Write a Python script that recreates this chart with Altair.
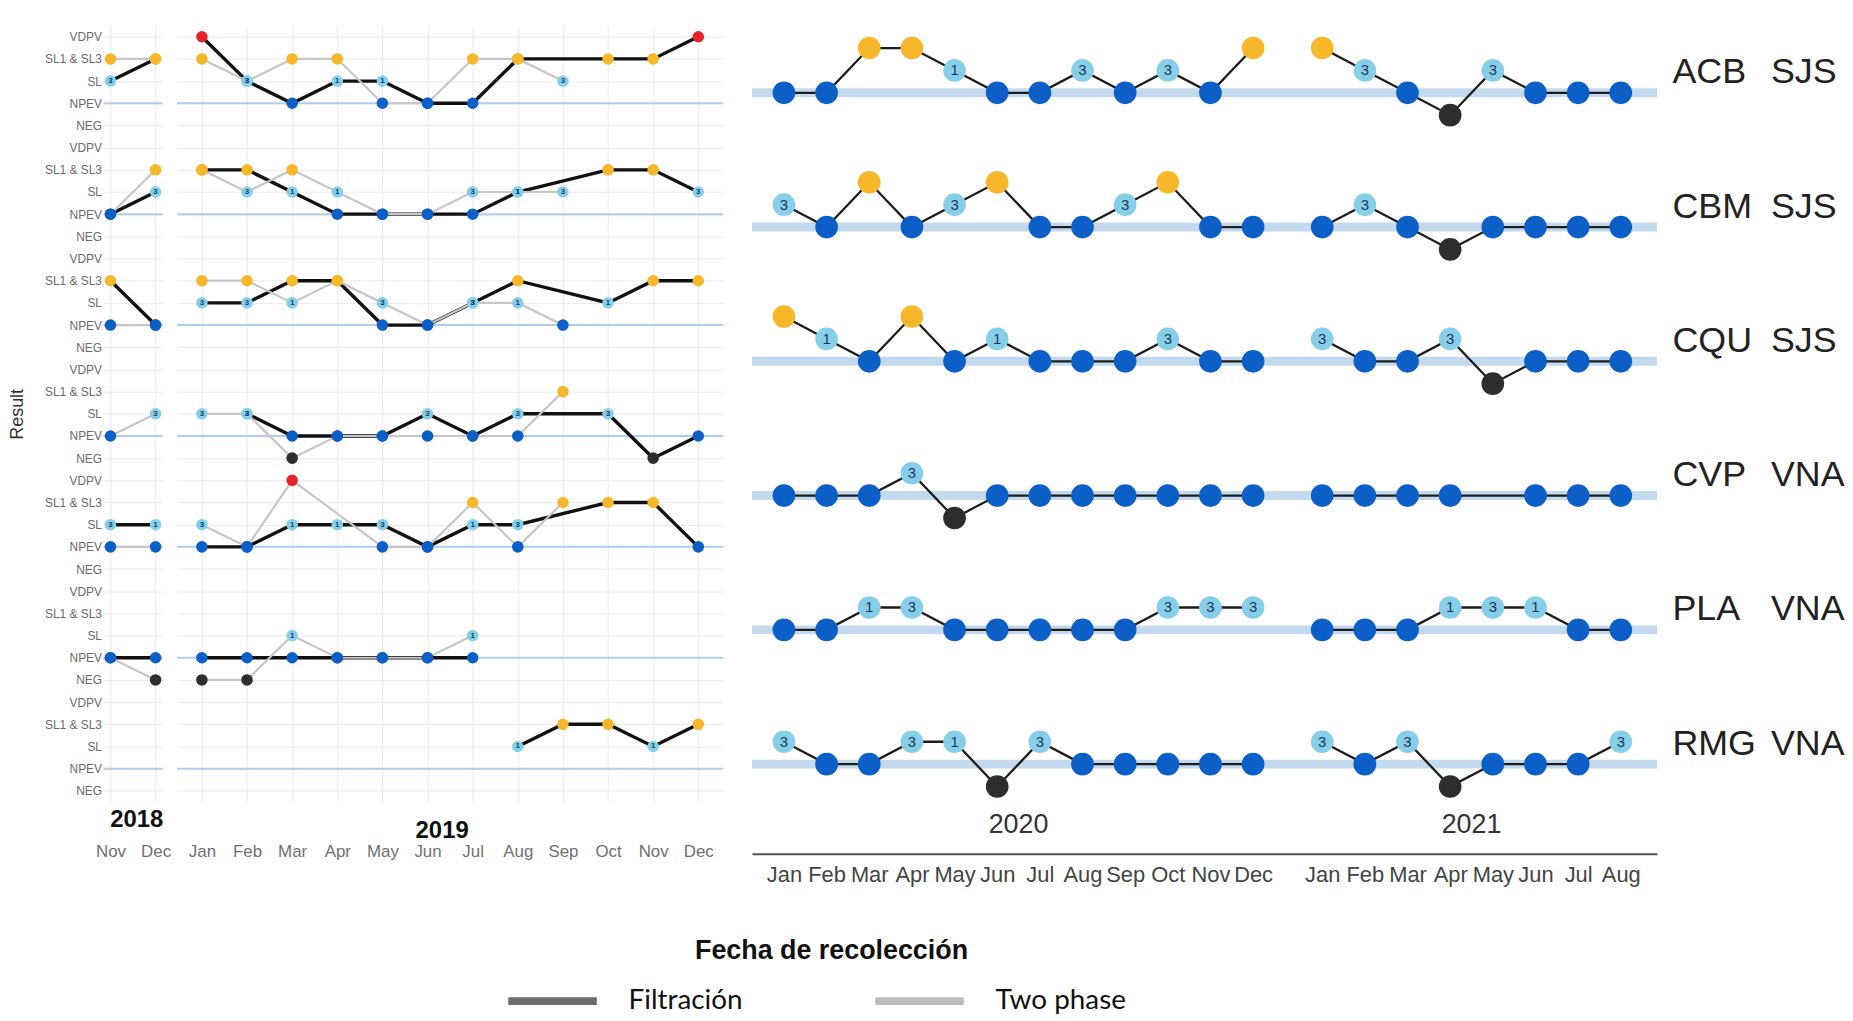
import json
import altair as alt
import pandas as pd

# ---------------------------------------------------------------- data
_ = None
LEFT_MONTHS = ["Nov", "Dec", "Jan", "Feb", "Mar", "Apr", "May", "Jun", "Jul", "Aug", "Sep", "Oct", "Nov", "Dec"]
LEFT_YEARS = [2018, 2018] + [2019] * 12

# result codes: V = VDPV, O = SL1 & SL3, S1/S3 = SL (serotype number), N = NPEV, G = NEG
LEFT_FILTRACION = [
    ["S3", "O", "V", "S3", "N", "S1", "S1", "N", "N", "O", _, "O", "O", "V"],
    ["N", "S3", "O", "O", "S1", "N", "N", "N", "N", "S1", _, "O", "O", "S3"],
    ["O", "N", "S3", "S3", "O", "O", "N", "N", "S3", "O", _, "S1", "O", "O"],
    [_, _, _, "S3", "N", "N", "N", "S3", "N", "S3", _, "S3", "G", "N"],
    ["S3", "S1", "N", "N", "S1", "S1", "S3", "N", "S1", "S3", _, "O", "O", "N"],
    ["N", "N", "N", "N", "N", "N", "N", "N", "N", _, _, _, _, _],
    [_, _, _, _, _, _, _, _, _, "S1", "O", "O", "S1", "O"],
]
LEFT_TWO_PHASE = [
    ["O", "O", "O", "S3", "O", "O", "N", "N", "O", "O", "S3", _, _, _],
    ["N", "O", "O", "S3", "O", "S1", "N", "N", "S3", "S1", "S3", _, _, _],
    ["N", "N", "O", "O", "S1", "O", "S3", "N", "S3", "S1", "N", _, _, _],
    ["N", "S3", "S3", "S3", "G", "N", "N", "N", "N", "N", "O", _, _, _],
    ["N", "N", "S3", "N", "V", _, "N", "N", "O", "N", "O", _, _, _],
    ["N", "G", "G", "G", "S1", "N", "N", "N", "S1", _, _, _, _, _],
    [_] * 14,
]

RIGHT_MONTHS = ["Jan", "Feb", "Mar", "Apr", "May", "Jun", "Jul", "Aug", "Sep", "Oct", "Nov", "Dec",
                "Jan", "Feb", "Mar", "Apr", "May", "Jun", "Jul", "Aug"]
RIGHT_YEARS = [2020] * 12 + [2021] * 8
RIGHT_SITES = ["ACB", "CBM", "CQU", "CVP", "PLA", "RMG"]
RIGHT_REGIONS = ["SJS", "SJS", "SJS", "VNA", "VNA", "VNA"]
RIGHT_RESULTS = [
    ["N", "N", "O", "O", "S1", "N", "N", "S3", "N", "S3", "N", "O", "O", "S3", "N", "G", "S3", "N", "N", "N"],
    ["S3", "N", "O", "N", "S3", "O", "N", "N", "S3", "O", "N", "N", "N", "S3", "N", "G", "N", "N", "N", "N"],
    ["O", "S1", "N", "O", "N", "S1", "N", "N", "N", "S3", "N", "N", "S3", "N", "N", "S3", "G", "N", "N", "N"],
    ["N", "N", "N", "S3", "G", "N", "N", "N", "N", "N", "N", "N", "N", "N", "N", "N", _, "N", "N", "N"],
    ["N", "N", "S1", "S3", "N", "N", "N", "N", "N", "S3", "S3", "S3", "N", "N", "N", "S1", "S3", "S1", "N", "N"],
    ["S3", "N", "N", "S3", "S1", "G", "S3", "N", "N", "N", "N", "N", "S3", "N", "S3", "G", "N", "N", "N", "S3"],
]

RESULT_ORDER = ["VDPV", "SL1 & SL3", "SL", "NPEV", "NEG"]
CODE_TO_RESULT = {"V": "VDPV", "O": "SL1 & SL3", "S1": "SL", "S3": "SL", "N": "NPEV", "G": "NEG"}
CODE_TO_NUMBER = {"S1": "1", "S3": "3"}
METHODS = ["Filtración", "Two phase"]

# ---------------------------------------------------------------- style
FONT = "Liberation Sans"
RESULT_COLORS = ["#e3242b", "#f6b72a", "#87cfe9", "#0b5fc7", "#2d2d2d"]
GRID = "#ebebeb"
YEAR_GAP = 0.62

# ---------------------------------------------------------------- tables
LEFT_KEYS = [f"{r}|{lv}" for r in range(len(LEFT_FILTRACION)) for lv in RESULT_ORDER]
rows = []
for r in range(len(LEFT_FILTRACION)):
    for method, series in zip(METHODS, (LEFT_FILTRACION[r], LEFT_TWO_PHASE[r])):
        for i, code in enumerate(series):
            if code is None:
                continue
            res = CODE_TO_RESULT[code]
            rows.append(dict(row=r, idx=i, month=LEFT_MONTHS[i], year=LEFT_YEARS[i], method=method,
                             result=res, key=f"{r}|{res}", num=CODE_TO_NUMBER.get(code, "")))
left_df = pd.DataFrame(rows)
left_npev = pd.DataFrame({"key": [f"{r}|NPEV" for r in range(len(LEFT_FILTRACION))]})

RIGHT_LEVELS = ["SL1 & SL3", "SL", "NPEV", "NEG", "gap1", "gap2"]
RIGHT_KEYS = [f"{r}|{lv}" for r in range(len(RIGHT_SITES)) for lv in RIGHT_LEVELS]
RIGHT_XPOS = [round((i if y == 2020 else i + YEAR_GAP), 2) for i, y in enumerate(RIGHT_YEARS)]
rrows = []
for r, site in enumerate(RIGHT_SITES):
    for i, code in enumerate(RIGHT_RESULTS[r]):
        if code is None:
            continue
        res = CODE_TO_RESULT[code]
        rrows.append(dict(row=r, site=site, year=str(RIGHT_YEARS[i]), xpos=RIGHT_XPOS[i],
                          result=res, key=f"{r}|{res}", num=CODE_TO_NUMBER.get(code, "")))
right_df = pd.DataFrame(rrows)
right_npev = pd.DataFrame({"key": [f"{r}|NPEV" for r in range(len(RIGHT_SITES))]})
right_years = pd.DataFrame({"year": [str(y) for y in RIGHT_YEARS], "xpos": RIGHT_XPOS,
                            "ykey": [RIGHT_KEYS[-1]] * len(RIGHT_YEARS)})


# ---------------------------------------------------------------- left panels
def left_panel(year, width, pad, title_x, title_y, first):
    d = left_df[left_df.year == year]
    months = [m for m, y in zip(LEFT_MONTHS, LEFT_YEARS) if y == year]
    x = alt.X("month:N", scale=alt.Scale(type="point", domain=months, padding=pad),
              axis=alt.Axis(title=str(year), titleX=title_x, titleY=title_y, titleAlign="center",
                            titleBaseline="middle", titleFont=FONT, titleFontSize=24,
                            titleFontWeight="bold", titleColor="#111",
                            labelFont=FONT, labelFontSize=17, labelColor="#707070", labelPadding=42,
                            labelAngle=0, labelOverlap=False, ticks=False, domain=False,
                            grid=True, gridColor=GRID))
    if first:
        yax = alt.Axis(title="Result", labelExpr="split(datum.value, '|')[1]", labelFont=FONT,
                       labelFontSize=12, labelColor="#6a6a6a", labelPadding=2, ticks=False,
                       domain=False, grid=True, gridColor=GRID, titleFont=FONT, titleFontSize=18,
                       titleFontWeight="normal", titleColor="#333", titlePadding=18)
    else:
        yax = alt.Axis(labels=False, ticks=False, domain=False, title=None, grid=True, gridColor=GRID)
    y = alt.Y("key:N", scale=alt.Scale(type="point", domain=LEFT_KEYS, padding=0.5), axis=yax)

    npev = alt.Chart(left_npev).mark_rule(color="#b4cde6", strokeWidth=2).encode(y=y)
    filt = alt.Chart(d[d.method == "Filtración"]).mark_line(color="#111111", strokeWidth=3.4).encode(
        x=x, y=y, detail="row:N", order="idx:Q")
    two = alt.Chart(d[d.method == "Two phase"]).mark_line(color="#c6c6c6", strokeWidth=2.2).encode(
        x=x, y=y, detail="row:N", order="idx:Q")
    pts = alt.Chart(d).mark_circle(opacity=1).encode(
        x=x, y=y,
        color=alt.Color("result:N", scale=alt.Scale(domain=RESULT_ORDER, range=RESULT_COLORS), legend=None),
        size=alt.Size("result:N", scale=alt.Scale(domain=RESULT_ORDER, range=[135, 135, 100, 135, 135]),
                      legend=None))
    nums = alt.Chart(d[d.num != ""]).mark_text(font=FONT, fontSize=8, fontWeight="bold",
                                                color="#123f6b").encode(x=x, y=y, text="num:N")
    layers = [npev, filt, two, pts, nums]
    if not first:
        leg_df = pd.DataFrame({"method": METHODS, "month": [months[0]] * 2, "key": [LEFT_KEYS[0]] * 2})
        leg = alt.Chart(leg_df).mark_line().encode(
            x=x, y=y,
            stroke=alt.Stroke("method:N", scale=alt.Scale(domain=METHODS, range=["#6d6d6d", "#bcbcbc"]),
                              legend=alt.Legend(
                                  title="Fecha de recolección", orient="none", legendX=361, legendY=917,
                                  direction="horizontal", padding=0, titleFont=FONT, titleFontSize=27,
                                  titleFontWeight="bold", titleColor="#111", titleAnchor="middle",
                                  titleLimit=0, labelLimit=0,
                                  titlePadding=20, labelFont="Lato", labelFontSize=28, labelColor="#111",
                                  labelOffset=60, symbolType="M-3,-0.1L3,-0.1L3,0.1L-3,0.1Z",
                                  symbolSize=784, symbolStrokeWidth=5, columnPadding=125)))
        layers = [leg] + layers
    return alt.layer(*layers).properties(width=width, height=780.5)


l18 = left_panel(2018, 59.4, 0.155, 33, 18, True)
l19 = left_panel(2019, 549, 0.55, 266, 29, False)

spacer = alt.Chart(pd.DataFrame({"v": [0]})).mark_point(opacity=0).encode(
    x=alt.X("v:Q", axis=None), y=alt.Y("v:Q", axis=None)).properties(width=1, height=1)

# ---------------------------------------------------------------- right panel
month_expr = f"{json.dumps(RIGHT_MONTHS)}[indexof({json.dumps(RIGHT_XPOS)}, datum.value)]"
site_expr = f"{json.dumps(RIGHT_SITES)}[toNumber(split(datum.value, '|')[0])]"
region_expr = f"{json.dumps(RIGHT_REGIONS)}[toNumber(split(datum.value, '|')[0])]"
npev_keys = list(right_npev["key"])

rx_axis = alt.Axis(values=RIGHT_XPOS, labelExpr=month_expr, title=None, ticks=False, grid=False,
                   domain=True, domainColor="#555", domainWidth=2, labelFont=FONT, labelFontSize=22,
                   labelColor="#444", labelPadding=11, labelOverlap=False, labelFlush=False,
                   labelBound=False)
rx_scale = alt.Scale(domain=[-0.75, 20.47], nice=False, zero=False)
rx = alt.X("xpos:Q", scale=rx_scale, axis=rx_axis)
ry_scale = alt.Scale(type="point", domain=RIGHT_KEYS, padding=1)
ry = alt.Y("key:N", scale=ry_scale, axis=None)

band = alt.Chart(right_npev).mark_rule(color="#c3daee", strokeWidth=9).encode(
    y=alt.Y("key:N", scale=ry_scale,
            axis=alt.Axis(orient="right", values=npev_keys, labelExpr=site_expr, labelFont=FONT,
                          labelFontSize=36, labelColor="#222", labelPadding=15, labelOffset=-21,
                          ticks=False, domain=False, grid=False, title=None)))
rlines = alt.Chart(right_df).mark_line(color="#1c1c1c", strokeWidth=2.3).encode(
    x=rx, y=ry, detail=alt.Detail(["site:N", "year:N"]), order="xpos:Q")
rpts = alt.Chart(right_df).mark_circle(opacity=1).encode(
    x=rx, y=ry,
    color=alt.Color("result:N", scale=alt.Scale(domain=RESULT_ORDER, range=RESULT_COLORS), legend=None),
    size=alt.Size("result:N", scale=alt.Scale(domain=RESULT_ORDER, range=[520, 520, 330, 440, 520]),
                  legend=None))
rnums = alt.Chart(right_df[right_df.num != ""]).mark_text(font=FONT, fontSize=15, color="#17385a").encode(
    x=rx, y=ry, text="num:N")
ryears = alt.Chart(right_years).mark_text(font=FONT, fontSize=27, color="#333", dy=-6).encode(
    x=alt.X("mean(xpos):Q", scale=rx_scale, axis=rx_axis),
    y=alt.Y("ykey:N", scale=ry_scale,
            axis=alt.Axis(orient="right", offset=112, values=npev_keys, labelExpr=region_expr,
                          labelFont=FONT, labelFontSize=36, labelColor="#222", labelPadding=2,
                          labelOffset=-21, ticks=False, domain=False, grid=False, title=None)),
    text="year:N")

right = alt.layer(band, rlines, rpts, rnums, ryears).resolve_scale(y="independent").properties(
    width=910, height=832.5)

chart = alt.hconcat(l18, l19, spacer, right, spacing=14, bounds="flush").resolve_scale(
    color="independent", size="independent", stroke="independent").properties(
    padding={"left": 0, "top": 12, "right": 0, "bottom": 0}).configure_view(stroke=None)

chart.save("out.html", embed_options={"renderer": "svg", "actions": False})
